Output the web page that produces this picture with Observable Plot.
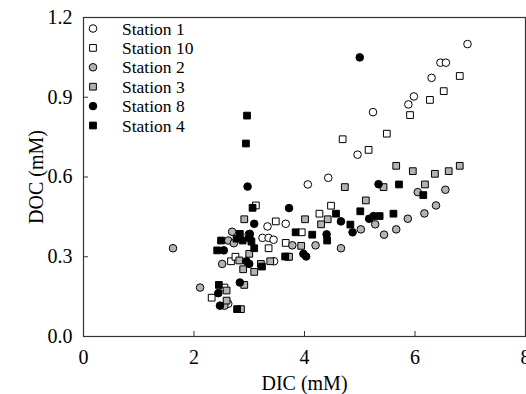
<!DOCTYPE html>
<html>
<head>
<meta charset="utf-8">
<script src="https://cdn.jsdelivr.net/npm/d3@7"></script>
<script src="https://cdn.jsdelivr.net/npm/@observablehq/plot@0.6"></script>
<style>
  body { margin: 0; background: white; }
  #wrap { position: relative; width: 526px; height: 394px; }
  #legend { position: absolute; left: 0; top: 0; pointer-events: none; }
  svg text { font-family: "Liberation Serif", "DejaVu Serif", "Times New Roman", Times, serif; }
</style>
</head>
<body>
<div id="wrap"></div>
<script>
// Series names in legend order
const stations = ["Station 1", "Station 10", "Station 2", "Station 3", "Station 8", "Station 4"];
const stationFills = ["white", "white", "#b3b3b3", "#b3b3b3", "black", "black"];
const stationSymbols = ["circle", "square", "circle", "square", "circle", "square"];

// [DIC (mM), DOC (mM)] pairs
const station1 = [[6.95,1.10],[6.46,1.03],[6.56,1.03],[6.30,0.973],[5.98,0.903],[5.88,0.873],[5.24,0.844],[4.96,0.684],[4.43,0.597],[4.06,0.572],[3.33,0.414],[3.66,0.424],[3.24,0.371],[3.35,0.371],[3.44,0.364],[3.45,0.283],[2.62,0.123]];
const station10 = [[6.81,0.98],[6.52,0.923],[6.27,0.89],[5.91,0.833],[5.49,0.763],[4.69,0.742],[5.16,0.702],[4.48,0.492],[4.27,0.462],[3.95,0.392],[3.12,0.493],[3.48,0.433],[3.66,0.352],[3.35,0.332],[3.70,0.30],[2.67,0.283],[2.75,0.30],[2.55,0.184],[2.32,0.146]];
const station2 = [[6.05,0.543],[6.55,0.552],[6.38,0.493],[6.17,0.463],[5.28,0.422],[5.87,0.443],[5.02,0.403],[5.66,0.403],[5.44,0.383],[4.20,0.343],[4.66,0.332],[3.78,0.343],[2.69,0.394],[2.99,0.384],[2.62,0.361],[2.72,0.351],[1.62,0.332],[2.51,0.273],[2.11,0.184],[2.55,0.116]];
const station3 = [[5.66,0.642],[5.96,0.622],[6.36,0.612],[6.61,0.622],[6.81,0.642],[4.73,0.562],[5.43,0.562],[6.18,0.572],[5.11,0.512],[4.01,0.441],[4.42,0.441],[4.30,0.422],[3.94,0.341],[2.91,0.441],[3.00,0.311],[2.82,0.286],[2.89,0.253],[3.09,0.243],[3.21,0.273],[3.38,0.283],[2.59,0.173],[2.91,0.194],[2.59,0.135],[2.85,0.103],[3.72,0.30]];
const station8 = [[5.00,1.05],[5.34,0.573],[4.66,0.433],[5.17,0.443],[5.25,0.453],[4.87,0.392],[4.40,0.384],[3.98,0.311],[4.03,0.301],[2.97,0.564],[3.72,0.483],[3.09,0.424],[2.54,0.324],[2.95,0.283],[3.00,0.273],[3.01,0.386],[3.01,0.368],[2.83,0.203],[2.44,0.163],[2.47,0.116]];
const station4 = [[2.96,0.831],[2.94,0.726],[5.71,0.572],[6.15,0.532],[4.57,0.462],[5.01,0.471],[4.83,0.421],[5.36,0.453],[5.61,0.462],[4.14,0.383],[4.41,0.361],[3.06,0.484],[3.84,0.392],[2.49,0.361],[2.77,0.368],[2.83,0.386],[2.88,0.361],[3.04,0.357],[2.42,0.324],[3.09,0.332],[3.65,0.301],[3.23,0.263],[2.45,0.194],[2.78,0.103]];

// Axis ticks
const xTicks = [0, 2, 4, 6, 8];
const yTicks = [0, 0.3, 0.6, 0.9, 1.2];
const xInnerTicks = [2, 4, 6];
const yInnerTicks = [0.3, 0.6, 0.9];

const series = [station1, station10, station2, station3, station8, station4];
const rows = [];
series.forEach((pts, i) => pts.forEach(([dic, doc]) => rows.push({station: stations[i], dic, doc})));

const serif = "'Liberation Serif', 'DejaVu Serif', 'Times New Roman', Times, serif";

const chart = Plot.plot({
  width: 526,
  height: 394,
  marginLeft: 83,
  marginRight: 1,
  marginTop: 17,
  marginBottom: 58,
  x: {domain: [0, 8]},
  y: {domain: [0, 1.2]},
  color: {domain: stations, range: stationFills},
  symbol: {domain: stations, range: stationSymbols},
  style: {fontFamily: serif, fontSize: "20px", color: "black", background: "white", overflow: "visible"},
  marks: [
    Plot.axisX({ticks: xInnerTicks, tickSize: 5, dy: -5, tickFormat: () => "", label: null, stroke: "#333"}),
    Plot.axisY({ticks: yInnerTicks, tickSize: 5, dx: 5, tickFormat: () => "", label: null, stroke: "#333"}),
    Plot.axisX({ticks: xTicks, tickSize: 0, tickPadding: 13, tickFormat: d3.format("d"), fontSize: 20, label: "DIC (mM)", labelAnchor: "center", labelOffset: 53, labelArrow: "none"}),
    Plot.axisY({ticks: yTicks, tickSize: 0, tickPadding: 11, tickFormat: d3.format(".1f"), fontSize: 20, label: "DOC (mM)", labelAnchor: "center", labelOffset: 55, labelArrow: "none"}),
    Plot.frame({stroke: "#333", strokeWidth: 1.2}),
    Plot.dot(rows, {x: "dic", y: "doc", symbol: "station", fill: "station", stroke: "black", strokeWidth: 1, r: 3.8})
  ]
});
const wrap = document.getElementById("wrap");
wrap.appendChild(chart);

// Legend (top-left, inside the plot frame), drawn as an SVG overlay
const lg = d3.create("svg")
  .attr("id", "legend")
  .attr("width", 260)
  .attr("height", 150)
  .style("position", "absolute")
  .style("left", "0px")
  .style("top", "0px");
stations.forEach((name, i) => {
  const cy = 28.5 + i * 19.4;
  const sym = stationSymbols[i] === "circle" ? d3.symbolCircle : d3.symbolSquare;
  lg.append("path")
    .attr("transform", `translate(93,${cy})`)
    .attr("d", d3.symbol(sym, Math.PI * 3.8 * 3.8)())
    .attr("fill", stationFills[i])
    .attr("stroke", "black")
    .attr("stroke-width", 1);
  lg.append("text")
    .attr("x", 122)
    .attr("y", cy)
    .attr("dy", "0.35em")
    .attr("font-size", 17.5)
    .attr("font-family", serif)
    .attr("fill", "black")
    .text(name);
});
wrap.appendChild(lg.node());
</script>
</body>
</html>
